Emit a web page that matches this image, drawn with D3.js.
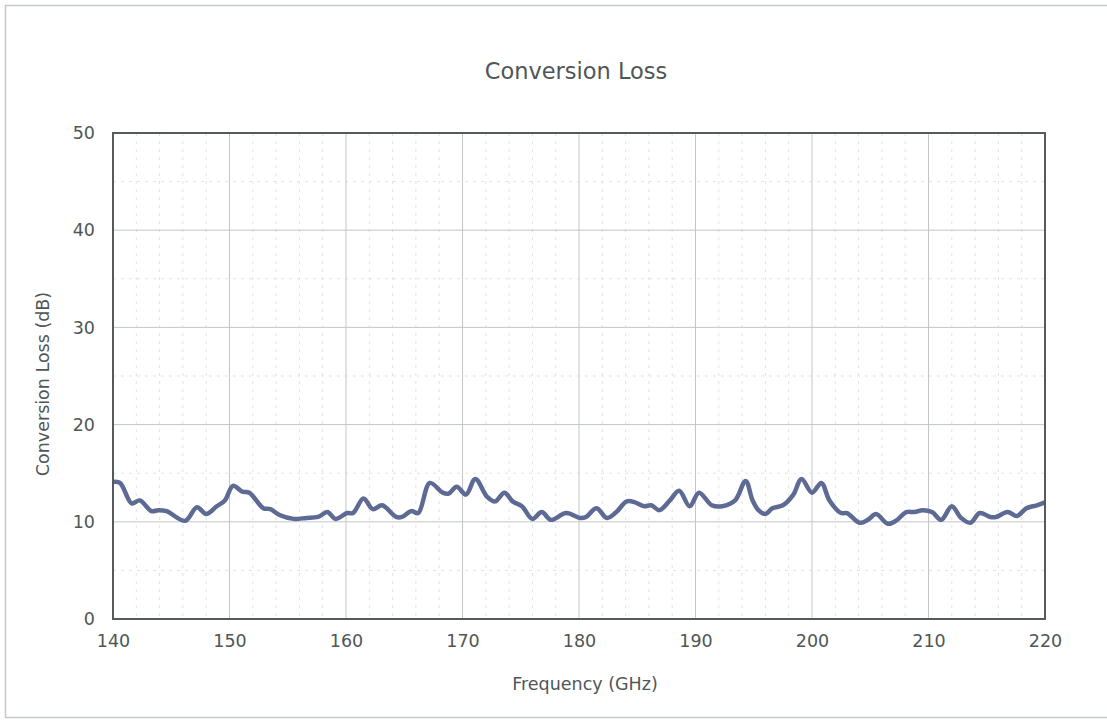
<!DOCTYPE html>
<html><head><meta charset="utf-8">
<script src="https://cdn.jsdelivr.net/npm/d3@7"></script>
<style>body{margin:0;background:#fff}svg{display:block}text{font-family:"DejaVu Sans",sans-serif;fill:#4f5656}</style>
</head><body>
<svg id="c" width="1107" height="720"></svg>
<script>
const title = "Conversion Loss";
const xTitle = "Frequency (GHz)";
const yTitle = "Conversion Loss (dB)";
const xTicks = [140,150,160,170,180,190,200,210,220];
const yTicks = [0,10,20,30,40,50];
const freq = [140,140.6,141.6,142.3,143.3,143.9,144.6,146.2,147.2,148.0,148.9,149.6,150.3,151.1,151.7,152.9,153.5,154.3,155.5,156.6,157.6,158.4,159.1,160.1,160.6,161.5,162.3,163.1,164.3,164.8,165.6,166.2,167.2,168.3,168.8,169.5,170.3,171.1,172.1,172.8,173.6,174.3,175.1,176.0,176.8,177.6,178.9,180.1,180.6,181.5,182.4,183.2,184.1,184.8,185.6,186.2,186.9,187.8,188.6,189.5,190.3,191.4,192.3,193.4,194.3,194.9,195.4,196.0,196.6,197.5,198.4,199.1,200.0,200.8,201.5,202.5,203.0,204.1,204.8,205.5,206.5,207.2,208.1,208.8,209.5,210.3,211.1,212.0,212.8,213.6,214.4,215.3,215.8,216.8,217.6,218.4,219.3,220];
const loss = [14.1,14.0,11.9,12.2,11.1,11.2,11.1,10.1,11.5,10.8,11.6,12.2,13.7,13.1,13.0,11.4,11.3,10.7,10.3,10.4,10.5,11.0,10.3,10.9,10.9,12.4,11.3,11.7,10.5,10.5,11.1,10.9,14.0,13.0,12.9,13.6,12.8,14.4,12.6,12.1,13.0,12.1,11.6,10.3,11.0,10.2,10.9,10.4,10.5,11.4,10.4,11.0,12.1,12.0,11.6,11.7,11.2,12.2,13.2,11.6,13.0,11.7,11.6,12.2,14.2,12.2,11.2,10.8,11.4,11.7,12.8,14.4,13.0,14.0,12.2,10.9,10.9,9.9,10.2,10.8,9.8,10.1,11.0,11.0,11.2,11.0,10.2,11.6,10.4,9.9,10.9,10.5,10.5,11.0,10.6,11.4,11.7,12.0];

const svg = d3.select("#c");
const L=113, R=1045, T=133, B=619;
const x = d3.scaleLinear().domain([140,220]).range([L,R]);
const y = d3.scaleLinear().domain([0,50]).range([B,T]);

// outer border
svg.append("rect").attr("x",5.5).attr("y",5.5).attr("width",1130).attr("height",712)
  .attr("fill","none").attr("stroke","#c4c8c8").attr("stroke-width",1.5);

// minor grid
const g = svg.append("g");
g.selectAll(".mx").data(d3.range(142,220,2).filter(v=>v%10!==0)).join("line")
  .attr("x1",d=>x(d)).attr("x2",d=>x(d)).attr("y1",T).attr("y2",B)
  .attr("stroke","#e0e3e4").attr("stroke-width",1).attr("stroke-dasharray","3,5");
g.selectAll(".my").data([5,15,25,35,45]).join("line")
  .attr("x1",L).attr("x2",R).attr("y1",d=>y(d)).attr("y2",d=>y(d))
  .attr("stroke","#e0e3e4").attr("stroke-width",1).attr("stroke-dasharray","3,5");
// major grid
g.selectAll(".Mx").data(xTicks.slice(1,-1)).join("line")
  .attr("x1",d=>x(d)).attr("x2",d=>x(d)).attr("y1",T).attr("y2",B)
  .attr("stroke","#c2c6c8").attr("stroke-width",1);
g.selectAll(".My").data(yTicks.slice(1,-1)).join("line")
  .attr("x1",L).attr("x2",R).attr("y1",d=>y(d)).attr("y2",d=>y(d))
  .attr("stroke","#c2c6c8").attr("stroke-width",1);

// line
const data = freq.map((f,i)=>[f,loss[i]]);
svg.append("path").datum(data)
  .attr("d", d3.line().x(d=>x(d[0])).y(d=>y(d[1])).curve(d3.curveCatmullRom.alpha(0.5)))
  .attr("fill","none").attr("stroke","#5d6a93").attr("stroke-width",4.5).attr("stroke-linejoin","round");

// frame
svg.append("rect").attr("x",L).attr("y",T).attr("width",R-L).attr("height",B-T)
  .attr("fill","none").attr("stroke","#555b5c").attr("stroke-width",2);

// axes labels
const xa = svg.append("g").attr("transform",`translate(0,${B})`)
  .call(d3.axisBottom(x).tickValues(xTicks).tickSize(0).tickPadding(16).tickFormat(d3.format("d")));
xa.select(".domain").remove();
xa.selectAll("text").attr("font-size",17.5).style("fill","#4f5656").attr("font-family","DejaVu Sans");
const ya = svg.append("g").attr("transform",`translate(${L},0)`)
  .call(d3.axisLeft(y).tickValues(yTicks).tickSize(0).tickPadding(18).tickFormat(d3.format("d")));
ya.select(".domain").remove();
ya.selectAll("text").attr("font-size",17.5).style("fill","#4f5656").attr("font-family","DejaVu Sans");

svg.append("text").attr("x",576).attr("y",79).attr("text-anchor","middle").attr("font-size",22.5).text(title);
svg.append("text").attr("x",585).attr("y",690).attr("text-anchor","middle").attr("font-size",17.5).text(xTitle);
svg.append("text").attr("transform","translate(49,384) rotate(-90)").attr("text-anchor","middle").attr("font-size",17.5).text(yTitle);
</script>
</body></html>
